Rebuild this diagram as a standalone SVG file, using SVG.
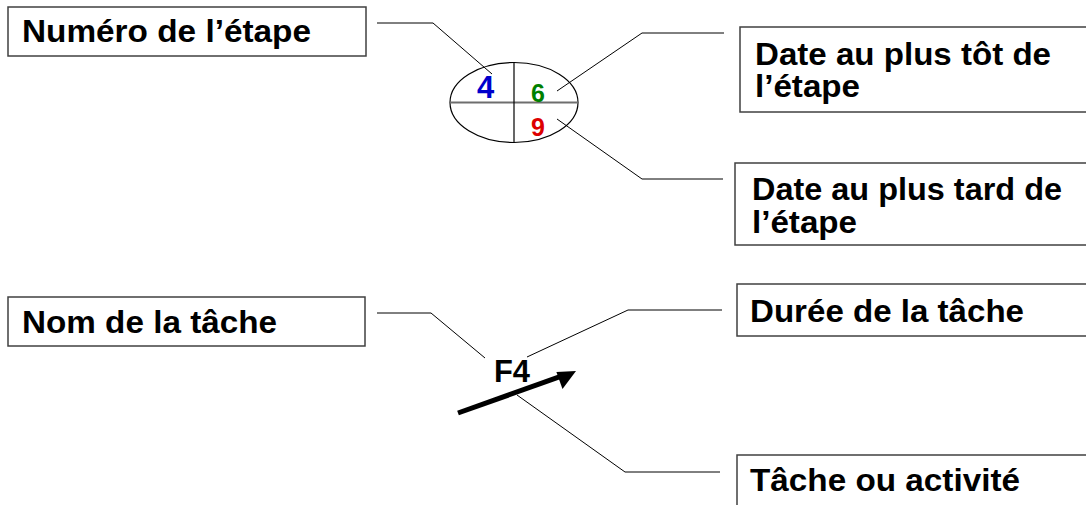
<svg xmlns="http://www.w3.org/2000/svg" width="1086" height="505" viewBox="0 0 1086 505">
  <style>
    .box { fill: #ffffff; stroke: #404040; stroke-width: 1.5; }
    .lbl { font-family: "Liberation Sans", Arial, sans-serif; font-weight: bold; font-size: 31px; fill: #000000; }
    .lead { fill: none; stroke: #000000; stroke-width: 1; }
    .num { font-family: "Liberation Sans", Arial, sans-serif; font-weight: bold; text-anchor: middle; }
  </style>
  <rect width="1086" height="505" fill="#ffffff"/>

  <!-- leader lines -->
  <g id="connectors">
    <polyline class="lead" points="377,23 433,23 492,74"/>
    <polyline class="lead" points="724,33 642,33 557,91"/>
    <polyline class="lead" points="557,119 642,179 723,179"/>
    <polyline class="lead" points="377,313 431,313 485,358"/>
    <polyline class="lead" points="722,310 628,310 527,357"/>
    <polyline class="lead" points="517,395 625,472 720,472"/>
  </g>

  <!-- event node: number / earliest / latest dates -->
  <g id="etape">
    <ellipse cx="514" cy="102.5" rx="64" ry="40" fill="none" stroke="#000000" stroke-width="1.2"/>
    <line x1="450" y1="102.5" x2="578" y2="102.5" stroke="#6e6e6e" stroke-width="2"/>
    <line x1="514" y1="62.5" x2="514" y2="142.5" stroke="#000000" stroke-width="1.2"/>
    <text class="num" x="485.5" y="98" font-size="31" fill="#0000cc">4</text>
    <text class="num" x="538" y="101.5" font-size="25" fill="#008000">6</text>
    <text class="num" x="538" y="136" font-size="25" fill="#dd0000">9</text>
  </g>

  <!-- task arrow -->
  <g id="tache">
    <line x1="458" y1="413" x2="560" y2="376.7" stroke="#000000" stroke-width="5"/>
    <polygon points="576,371 556.4,372.1 562.5,389" fill="#000000"/>
    <text class="lbl" x="494" y="382" font-size="32" textLength="36" lengthAdjust="spacingAndGlyphs">F4</text>
  </g>

  <g id="box-numero">
    <rect class="box" x="8" y="7" width="358" height="49"/>
    <text class="lbl" x="22" y="42" textLength="289" lengthAdjust="spacingAndGlyphs">Numéro de l’étape</text>
  </g>

  <g id="box-tot">
    <rect class="box" x="740" y="27" width="350" height="85"/>
    <text class="lbl" x="755" y="65" textLength="296" lengthAdjust="spacingAndGlyphs">Date au plus tôt de</text>
    <text class="lbl" x="755" y="97" textLength="105" lengthAdjust="spacingAndGlyphs">l’étape</text>
  </g>

  <g id="box-tard">
    <rect class="box" x="735" y="163" width="355" height="82"/>
    <text class="lbl" x="752" y="200" textLength="310" lengthAdjust="spacingAndGlyphs">Date au plus tard de</text>
    <text class="lbl" x="752" y="233" textLength="105" lengthAdjust="spacingAndGlyphs">l’étape</text>
  </g>

  <g id="box-nom">
    <rect class="box" x="8" y="297" width="357" height="49"/>
    <text class="lbl" x="22" y="333" textLength="255" lengthAdjust="spacingAndGlyphs">Nom de la tâche</text>
  </g>

  <g id="box-duree">
    <rect class="box" x="737" y="284" width="353" height="52"/>
    <text class="lbl" x="750" y="322" textLength="274" lengthAdjust="spacingAndGlyphs">Durée de la tâche</text>
  </g>

  <g id="box-activite">
    <rect class="box" x="737" y="455" width="353" height="60"/>
    <text class="lbl" x="750" y="491" textLength="270" lengthAdjust="spacingAndGlyphs">Tâche ou activité</text>
  </g>
</svg>
